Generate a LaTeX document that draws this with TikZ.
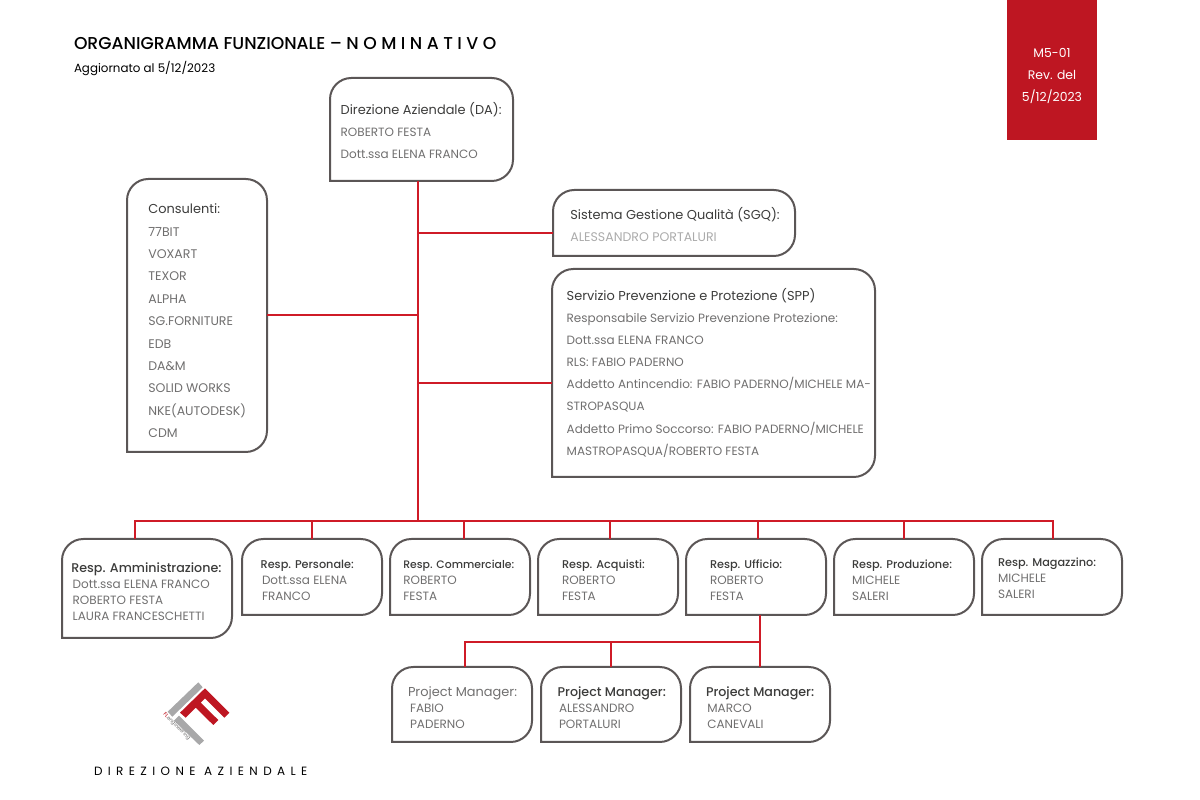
\documentclass[tikz,border=0pt]{standalone}
\usepackage{fontspec}
\setmainfont{Poppins}
\newfontfamily\medf{Poppins Medium}
\definecolor{redc}{HTML}{BE1622}
\definecolor{linered}{HTML}{CF1B27}
\definecolor{boxc}{HTML}{5B5656}
\definecolor{headc}{HTML}{3C3C3B}
\definecolor{namec}{HTML}{706F6F}
\definecolor{lightc}{HTML}{ABABAB}
\definecolor{logog}{HTML}{A8A8A9}
\newcommand\pxd[1]{\dimexpr 0.75pt*\numexpr #1\relax\relax}
\newcommand\headsize{\medf\fontsize{8.45}{10}\selectfont}
\newcommand\bigmed{\medf\fontsize{9.5}{10}\selectfont}
\newcommand\bigsize{\fontsize{9.7}{10}\selectfont}
\newcommand\namesize{\fontsize{9}{10}\selectfont}
\newcommand\tl[2][0]{\hbox{\kern #1pt\headsize\color{headc}\smash{#2}}}
\newcommand\tm[2][0]{\hbox{\kern #1pt\bigmed\color{headc}\smash{#2}}}
\newcommand\tb[2][0]{\hbox{\kern #1pt\bigsize\color{headc}\smash{#2}}}
\newcommand\gl[2][namec]{\hbox{\namesize\color{#1}\smash{#2}}}
\newcommand\gc[1]{\hbox{\fontsize{9.4}{10}\selectfont\color{namec}\smash{#1}}}
\newcommand\tabline[1]{\hbox to 67.5pt{\hss\smash{#1}\hss}}
% name, x0,y0,x1,y1 (px), pad x, first baseline from top, leading pt, content
\newcommand\ubox[9]{%
  \node[ubox] (#1) at ({(#2+#4)/2},{800-(#3+#5)/2}) {%
    \vbox to \pxd{#5-#3}{\kern #7pt\hbox to \pxd{#4-#2}{\kern #6pt\vtop{\baselineskip=#8pt\lineskiplimit=-100pt #9}\hss}\vss}};
  \draw[uline] ([yshift=-16pt]#1.north west) arc[start angle=180,end angle=90,radius=16pt]
      -- ([xshift=-16pt]#1.north east) arc[start angle=90,end angle=0,radius=16pt]
      -- ([yshift=16pt]#1.south east) arc[start angle=0,end angle=-90,radius=16pt]
      -- (#1.south west) -- cycle;}
\tikzset{
  x=0.75pt,y=0.75pt,
  ubox/.style={inner sep=0pt,outer sep=0pt},
  uline/.style={draw=boxc,line width=1.5pt},
  conn/.style={draw=linered,line width=1.5pt},
  plain/.style={inner sep=0pt,outer sep=0pt,anchor=base west},
  logob/.style={fill=logog,draw=none},
  logor/.style={fill=redc,draw=none}
}
\begin{document}
\begin{tikzpicture}
\useasboundingbox (0,0) rectangle (1200,800);
\node[plain,text=black] (title) at (74,750) {\fontsize{12.9}{14}\medf ORGANIGRAMMA FUNZIONALE – N O M I N A T I V O};
\node[plain,text=black] (sub) at (74,727.5) {\fontsize{8.9}{10}\selectfont Aggiornato al 5/12/2023};
\node[fill=redc,inner sep=0pt,outer sep=0pt,text=white] (tab) at (1052,730) {\vbox to 105pt{\kern43.5pt\vtop{\hsize=67.5pt\fontsize{9.3}{10}\selectfont\baselineskip=16.5pt\lineskiplimit=-100pt
  \tabline{M5-01}\tabline{Rev. del}\tabline{5/12/2023}}\vss}};

\ubox{da}{330}{78}{513}{181}{8}{27.5}{16.5}{\tb{Direzione Aziendale (DA):}\gl{ROBERTO FESTA}\gl{Dott.ssa ELENA FRANCO}}
\ubox{cons}{127}{179}{267}{452}{16}{26}{16.8}{\tb{Consulenti:}\gc{77BIT}\gc{VOXART}\gc{TEXOR}\gc{ALPHA}\gc{SG.FORNITURE}\gc{EDB}\gc{DA\&M}\gc{SOLID WORKS}\gc{NKE(AUTODESK)}\gc{CDM}}
\ubox{sgq}{553}{190}{795}{256}{13}{22.5}{16.5}{\tb{Sistema Gestione Qualità (SGQ):}\gc{\color{lightc}ALESSANDRO PORTALURI}}
\ubox{spp}{552}{269}{875}{477}{11}{23.5}{16.6}{\tb{Servizio Prevenzione e Protezione (SPP)}\gl{Responsabile Servizio Prevenzione Protezione:}\gl{Dott.ssa ELENA FRANCO}\gl{RLS: FABIO PADERNO}\gl{Addetto Antincendio: FABIO PADERNO/MICHELE MA-}\gl{STROPASQUA}\gl{Addetto Primo Soccorso: FABIO PADERNO/MICHELE}\gl{MASTROPASQUA/ROBERTO FESTA}}

\ubox{amm}{62}{539}{232}{638}{8}{25}{12}{\tm[-1]{Resp. Amministrazione:}\gl{Dott.ssa ELENA FRANCO}\gl{ROBERTO FESTA}\gl{LAURA FRANCESCHETTI}}
\ubox{per}{242}{539}{382}{615}{15}{22.5}{12}{\tl[-1]{Resp. Personale:}\gl{Dott.ssa ELENA}\gl{FRANCO}}
\ubox{com}{390}{539}{530}{615}{10}{22.5}{12}{\tl{\fontsize{8.15}{10}\selectfont Resp. Commerciale:}\gl{ROBERTO}\gl{FESTA}}
\ubox{acq}{538}{539}{678}{615}{18}{22.5}{12}{\tl{Resp. Acquisti:}\gl{ROBERTO}\gl{FESTA}}
\ubox{uff}{686}{539}{826}{615}{18}{22}{12}{\tl{Resp. Ufficio:}\gl{ROBERTO}\gl{FESTA}}
\ubox{pro}{834}{539}{974}{615}{13.5}{22}{12}{\tl{Resp. Produzione:}\gl{MICHELE}\gl{SALERI}}
\ubox{mag}{982}{539}{1122}{615}{12}{21}{12}{\tl{Resp. Magazzino:}\gl{MICHELE}\gl{SALERI}}

\ubox{pma}{392}{667}{532}{742}{13.5}{22}{12}{\hbox{\kern-1.5pt\bigsize\color{namec}\smash{Project Manager:}}\gl{FABIO}\gl{PADERNO}}
\ubox{pmb}{541}{667}{681}{742}{13.5}{22}{12}{\tm[-1]{Project Manager:}\gl{ALESSANDRO}\gl{PORTALURI}}
\ubox{pmc}{690}{667}{830}{742}{13}{22}{12}{\tm[-1]{Project Manager:}\gl{MARCO}\gl{CANEVALI}}

% connector junctions
\coordinate (trunk) at (418,280);
\coordinate (jsgq) at (418,567);
\coordinate (jcons) at (418,485);
\coordinate (jspp) at (418,417);
\coordinate (bus) at (418,279);
\coordinate (bamm) at (135,279);
\coordinate (bper) at (312,279);
\coordinate (bcom) at (464,279);
\coordinate (bacq) at (610,279);
\coordinate (buff) at (758,279);
\coordinate (bpro) at (904,279);
\coordinate (bmag) at (1053,279);
\coordinate (pbus) at (760,158);
\coordinate (ppma) at (465,158);
\coordinate (ppmb) at (611,158);
\coordinate (ppmc) at (760,158);

\draw[conn] (da.south -| trunk) -- (bus);
\draw[conn] (jsgq) -- (jsgq -| sgq.west);
\draw[conn] (jcons) -- (jcons -| cons.east);
\draw[conn] (jspp) -- (jspp -| spp.west);
\draw[conn] (bamm |- amm.north) -- (bamm) -- (bmag) -- (bmag |- mag.north);
\draw[conn] (bper) -- (bper |- per.north);
\draw[conn] (bcom) -- (bcom |- com.north);
\draw[conn] (bacq) -- (bacq |- acq.north);
\draw[conn] (buff) -- (buff |- uff.north);
\draw[conn] (bpro) -- (bpro |- pro.north);
\draw[conn] (pbus |- uff.south) -- (ppmc |- pmc.north);
\draw[conn] (ppma |- pma.north) -- (ppma) -- (pbus);
\draw[conn] (ppmb) -- (ppmb |- pmb.north);

% logo
\fill[logob] (198.3,117.7) -- (202.7,112.7) -- (172.3,83.3) -- (167.7,88.3) -- cycle;
\fill[logob] (179,84.3) -- (204,59.3) -- (199.3,55) -- (174,79.3) -- cycle;
\fill[logor] (205,111.7) -- (229.3,87.3) -- (224.3,82.3) -- (205,101.7) -- (200.7,97.3) -- (218.3,80) -- (213.3,75) -- (195.7,92.3) -- (185.7,82.3) -- (180,87.3) -- cycle;
\node[inner sep=0pt,outer sep=0pt,anchor=base west,rotate=-45,font=\fontsize{3.9}{4}\selectfont] (logotext) at (163,85.5) {\textcolor{redc}{\medf FL}\textcolor{namec}{engineering}};

\node[plain,text=black] (dirfoot) at (94,25) {\fontsize{9}{10}\selectfont\addfontfeature{LetterSpace=45}DIREZIONE AZIENDALE};
\end{tikzpicture}
\end{document}
